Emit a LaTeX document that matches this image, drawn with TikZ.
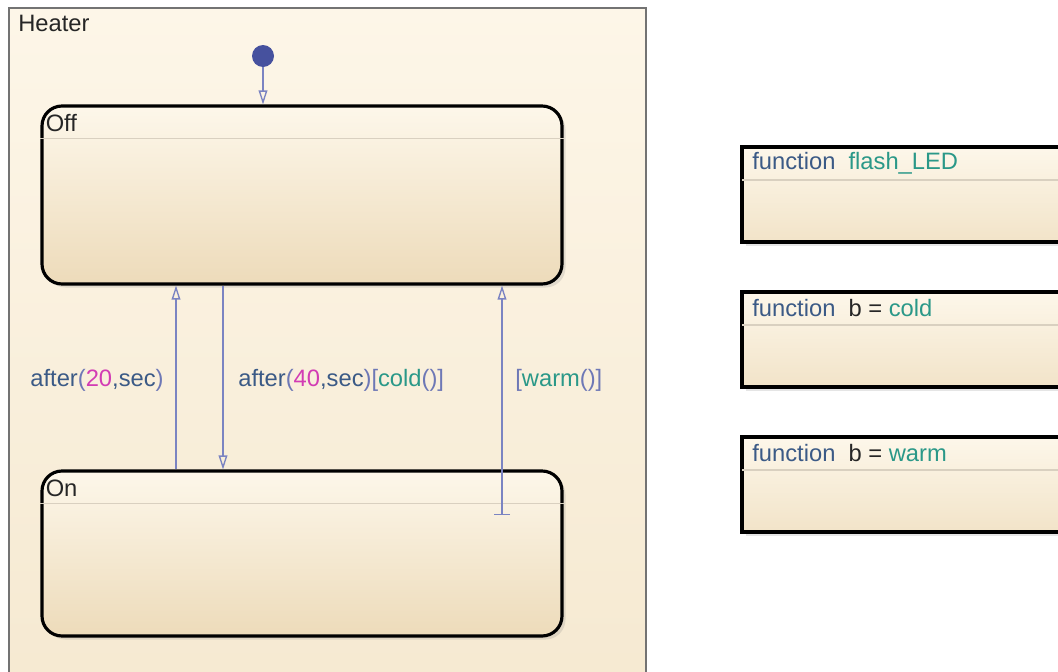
\documentclass[tikz,border=0pt]{standalone}
\usepackage{fontspec}
\setmainfont{Liberation Sans}
\usetikzlibrary{positioning,arrows.meta,shadows}
\definecolor{chartbg}{HTML}{FDF6E8}
\definecolor{chartbot}{HTML}{F5E8CF}
\definecolor{statetop}{HTML}{FDF7EA}
\definecolor{statebot}{HTML}{EDDBBA}
\definecolor{transcol}{HTML}{7B84C2}
\definecolor{dotcol}{HTML}{46519E}
\definecolor{kwcol}{HTML}{3B5A86}
\definecolor{numcol}{HTML}{D23CB4}
\definecolor{fncol}{HTML}{2A9888}
\definecolor{brcol}{HTML}{6E78B6}
\definecolor{sepcol}{HTML}{D9D0C0}
\newcommand{\kwd}[1]{\textcolor{kwcol}{#1}}
\newcommand{\numc}[1]{\textcolor{numcol}{#1}}
\newcommand{\fnc}[1]{\textcolor{fncol}{#1}}
\begin{document}
\begin{tikzpicture}[>={Triangle[open,length=8pt,width=5pt]},
  every node/.style={font=\fontsize{13.5}{16}\selectfont},
  state/.style={draw,line width=1.8pt,rounded corners=.4cm,inner sep=0pt,
    minimum width=10.4cm,top color=statetop,bottom color=statebot,
    drop shadow={opacity=.2,shadow xshift=2pt,shadow yshift=-2pt}},
  func/.style={draw,line width=2.4pt,inner sep=0pt,outer sep=0pt,
    minimum width=6.8cm,minimum height=1.9cm,top color=statetop,
    bottom color=statebot!70!statetop,
    drop shadow={opacity=.2,shadow xshift=2pt,shadow yshift=-2pt}},
  trans/.style={draw=transcol,line width=.8pt},
  title/.style={anchor=west,inner sep=0pt,text=black!85}]
 \clip (0,0) rectangle (21.16,-13.42);
 \fill[white] (0,0) rectangle (21.16,-13.42);
 % chart
 \node[draw=black!55,line width=1pt,top color=chartbg,bottom color=chartbot,
   anchor=north west,minimum width=12.74cm,minimum height=15cm,inner sep=0pt]
   (heater) at (0.16,-0.14) {};
 \node[title] (heatername) at ([shift={(0.2,-0.32)}]heater.north west) {Heater};
 % states
 \node[state,minimum height=3.56cm] (off) at (6.04,-3.9) {};
 \node[state,minimum height=3.3cm] (on) at (6.04,-11.07) {};
 \node[title] (offname) at ([shift={(0.1,-0.38)}]off.north west) {Off};
 \node[title] (onname) at ([shift={(0.1,-0.38)}]on.north west) {On};
 \draw[sepcol,line width=.6pt] ([yshift=-.68cm]off.north west)
   -- ([yshift=-.68cm]off.north east);
 \draw[sepcol,line width=.6pt] ([yshift=-.68cm]on.north west)
   -- ([yshift=-.68cm]on.north east);
 % default transition
 \node[circle,fill=dotcol,minimum size=.44cm,inner sep=0pt] (init) at (5.26,-1.12) {};
 \draw[trans,->] (init) -- (init |- off.north);
 % transitions
 \coordinate (t20) at (3.52,0);
 \coordinate (t40) at (4.46,0);
 \coordinate (warmstart) at (10.04,-10.3);
 \draw[trans,->] (t20 |- on.north) -- (t20 |- off.south);
 \draw[trans,->] (t40 |- off.south) -- (t40 |- on.north);
 \draw[trans,{Bar[width=.32cm]}->] (warmstart) -- (warmstart |- off.south);
 \node (lbl20) at (1.94,-7.6) {\kwd{after}\textcolor{brcol}{(}\numc{20}\kwd{,sec}\textcolor{brcol}{)}};
 \node[anchor=west,inner sep=0pt] (lbl40) at (4.76,-7.6)
   {\kwd{after}\textcolor{brcol}{(}\numc{40}\kwd{,sec}\textcolor{brcol}{)[}\fnc{cold}\textcolor{brcol}{()]}};
 \node[anchor=west,inner sep=0pt] (lblwarm) at (10.3,-7.6)
   {\textcolor{brcol}{[}\fnc{warm}\textcolor{brcol}{()]}};
 % graphical functions
 \node[func,anchor=north west] (flash) at (14.84,-2.94) {};
 \node[func,below=1cm of flash] (cold) {};
 \node[func,below=1cm of cold] (warm) {};
 \foreach \f in {flash,cold,warm}
   \draw[sepcol,line width=.6pt] ([yshift=-.66cm]\f.north west)
     -- ([yshift=-.66cm]\f.north east);
 \node[title] (flashname) at ([shift={(0.2,-0.32)}]flash.north west)
   {\kwd{function}\ \ \fnc{flash\_LED}};
 \node[title] (coldname) at ([shift={(0.2,-0.32)}]cold.north west)
   {\kwd{function}\ \ b = \fnc{cold}};
 \node[title] (warmname) at ([shift={(0.2,-0.32)}]warm.north west)
   {\kwd{function}\ \ b = \fnc{warm}};
\end{tikzpicture}
\end{document}
